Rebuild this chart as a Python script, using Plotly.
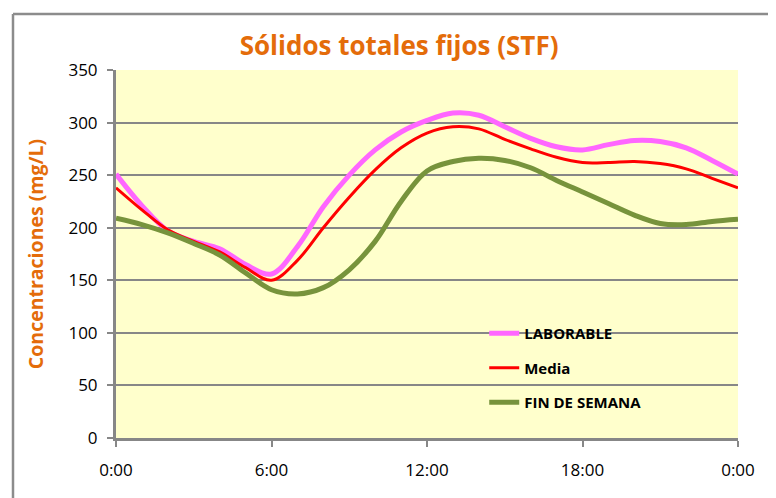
import plotly.graph_objects as go

hours = list(range(25))
laborable = [251, 221, 197, 187, 180, 165, 156, 182, 220, 250, 274, 291, 302, 309, 307, 296, 285, 277, 274, 279, 283, 282, 276, 264, 251]
media = [238, 217, 198, 187, 177, 162, 150, 169, 200, 229, 255, 276, 290, 296, 294, 284, 275, 267, 262, 262, 263, 261, 256, 247, 238]
fin_semana = [209, 203, 195, 185, 174, 157, 141, 137, 143, 160, 187, 225, 254, 263, 266, 264, 257, 245, 234, 223, 212, 204, 203, 206, 208]
tick_vals = [0, 6, 12, 18, 24]
tick_text = ["0:00", "6:00", "12:00", "18:00", "0:00"]
series_names = ["LABORABLE", "Media", "FIN DE SEMANA"]

fig = go.Figure()
fig.add_trace(go.Scatter(x=hours, y=laborable, name=series_names[0], mode="lines",
                         line=dict(color="#FF66FF", width=5, shape="spline", smoothing=1.0),
                         legendgroup="a"))
fig.add_trace(go.Scatter(x=hours, y=media, name=series_names[1], mode="lines",
                         line=dict(color="#FF0000", width=3, shape="spline", smoothing=1.0),
                         legendgroup="b"))
fig.add_trace(go.Scatter(x=hours, y=fin_semana, name=series_names[2], mode="lines",
                         line=dict(color="#77933C", width=5, shape="spline", smoothing=1.0),
                         legendgroup="c"))

fig.update_layout(
    width=776, height=498,
    margin=dict(l=108, r=46, t=62, b=68, autoexpand=False),
    paper_bgcolor="white",
    plot_bgcolor="#FFFFCC",
    font=dict(family="Open Sans", size=17, color="black"),
    title=dict(text="<b>Sólidos totales fijos (STF)</b>", x=0.504, xanchor="center",
               y=0.924, yanchor="middle",
               font=dict(family="Open Sans", size=26, color="#E46C0A")),
    showlegend=True,
    legend=dict(x=0.592, y=0.329, xanchor="left", yanchor="top",
                bgcolor="rgba(0,0,0,0)", tracegroupgap=12,
                font=dict(family="Open Sans", size=15, color="black", weight="bold")),
    xaxis=dict(range=[0, 24], tickvals=tick_vals, ticktext=tick_text,
               showgrid=False, zeroline=False, showline=True, linecolor="#878787", linewidth=3,
               ticks="outside", tickcolor="#878787", tickwidth=2, ticklen=6,
               ticklabelstandoff=9,
               tickfont=dict(size=17)),
    yaxis=dict(range=[0, 350], dtick=50, showgrid=True, gridcolor="#878787", gridwidth=2,
               zeroline=False, showline=True, linecolor="#878787", linewidth=3,
               ticks="outside", tickcolor="#878787", tickwidth=2, ticklen=6,
               ticklabelstandoff=6,
               tickfont=dict(size=17),
               title=dict(text="<b>Concentraciones (mg/L)</b>", standoff=20,
                          font=dict(family="Open Sans", size=19.5, color="#E46C0A"))),
)

fig.add_shape(type="line", xref="paper", yref="paper", x0=-0.1656, x1=1.2, y0=1.152, y1=1.152,
              line=dict(color="#8C8C8C", width=2.5))
fig.add_shape(type="line", xref="paper", yref="paper", x0=-0.1656, x1=-0.1656, y0=1.152, y1=-0.2,
              line=dict(color="#8C8C8C", width=2.5))

fig.write_html("out.html")
